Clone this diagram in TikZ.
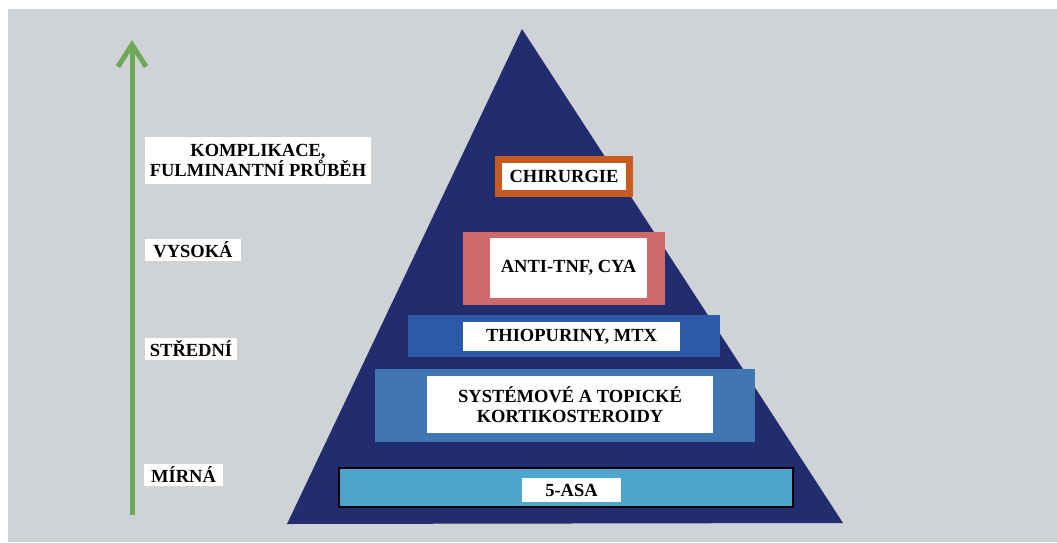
\documentclass[tikz,border=0pt]{standalone}
\usepackage{fontspec}
\setmainfont{Liberation Serif}
\usepackage{xcolor}
\usepackage{tikz}
\usetikzlibrary{arrows.meta}

\definecolor{bggray}{RGB}{208,211,214}
\definecolor{pyramid}{RGB}{33,45,110}
\definecolor{asablue}{RGB}{76,166,206}
\definecolor{steroidblue}{RGB}{64,118,178}
\definecolor{thioblue}{RGB}{44,90,166}
\definecolor{tnfred}{RGB}{206,104,106}
\definecolor{surgorange}{RGB}{200,92,32}
\definecolor{arrowgreen}{RGB}{110,168,88}

\begin{document}
\begin{tikzpicture}[
    x=1pt, y=-1pt,
    band/.style={rectangle, inner sep=0pt},
    tag/.style={rectangle, fill=white, inner sep=0pt, align=center, font=\fontsize{18.5}{20}\selectfont\bfseries},
    arrow/.style={-{Straight Barb[length=22pt, width=28pt]}, line width=5pt, draw=arrowgreen}
]

% Background
\useasboundingbox (0,0) rectangle (1057,542);
\fill[white] (0,0) rectangle (1057,542);
\fill[bggray] (8,9) rectangle (1057,542);

% Pyramid
\fill[pyramid] (522,29) -- (843,523) -- (287,524) -- cycle;

% Levels of the pyramid
\node[band, fill=asablue, draw=black, line width=2pt, minimum width=454pt, minimum height=39pt] (asa) at (566,487.5) {};
\node[tag, minimum width=99pt, minimum height=24pt] (asatext) at (571.5,490) {5-ASA};

\node[band, fill=steroidblue, minimum width=380pt, minimum height=73pt] (steroid) at (565,405.5) {};
\node[tag, minimum width=286pt, minimum height=57pt] (steroidtext) at (570,404.5) {SYSTÉMOVÉ A TOPICKÉ\\KORTIKOSTEROIDY};

\node[band, fill=thioblue, minimum width=312pt, minimum height=42pt] (thio) at (564,336) {};
\node[tag, minimum width=217pt, minimum height=29pt] (thiotext) at (571.5,336.5) {THIOPURINY, MTX};

\node[band, fill=tnfred, minimum width=202pt, minimum height=73pt] (tnf) at (564,268.5) {};
\node[tag, minimum width=157pt, minimum height=60pt] (tnftext) at (568.5,268) {ANTI-TNF, CYA};

\node[tag, draw=surgorange, line width=7pt, minimum width=131pt, minimum height=34pt] (surgery) at (564,176.5) {CHIRURGIE};

% Severity axis
\coordinate (axisbottom) at (132,515);
\coordinate (axistop) at (132,40);
\draw[arrow] (axisbottom) -- (axistop);

\node[tag, minimum width=226pt, minimum height=47pt] (complication) at (258,160.5) {KOMPLIKACE,\\FULMINANTNÍ PRŮBĚH};
\node[tag, minimum width=96pt, minimum height=22pt] (high) at (193,250) {VYSOKÁ};
\node[tag, minimum width=92pt, minimum height=22pt] (medium) at (191,349) {STŘEDNÍ};
\node[tag, minimum width=79pt, minimum height=22pt] (mild) at (183.5,475) {MÍRNÁ};

\end{tikzpicture}
\end{document}
